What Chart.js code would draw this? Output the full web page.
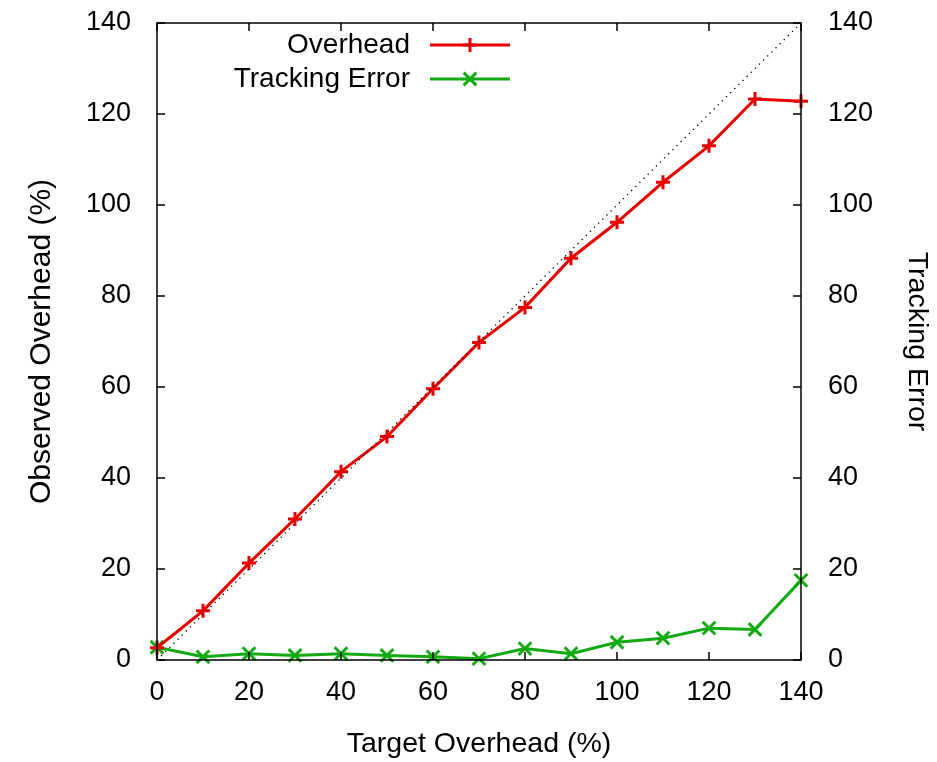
<!DOCTYPE html>
<html>
<head>
<meta charset="utf-8">
<script src="https://cdn.jsdelivr.net/npm/chart.js@4.4.0/dist/chart.umd.min.js"></script>
<style>
  html, body { margin: 0; padding: 0; background: #fff; }
  #wrap { width: 937px; height: 762px; }
</style>
</head>
<body>
<div id="wrap"><canvas id="overheadChart" width="937" height="762"></canvas></div>
<script>
// data
var targets = [0, 10, 20, 30, 40, 50, 60, 70, 80, 90, 100, 110, 120, 130, 140];
var observedOverhead = [2.7, 10.8, 21.3, 31.0, 41.4, 49.1, 59.6, 69.8, 77.5, 88.3, 96.2, 105.0, 113.0, 123.3, 122.8];
var trackingError = [2.8, 0.7, 1.4, 1.0, 1.4, 1.0, 0.7, 0.3, 2.5, 1.4, 3.9, 4.8, 7.0, 6.7, 17.5];
var idealX = [0, 140];
var idealY = [0, 140];
var tickValues = [0, 20, 40, 60, 80, 100, 120, 140];

var RED = '#e80000';
var GREEN = '#12aa12';
var FONT = '"Liberation Sans", Arial, sans-serif';

function toPoints(xs, ys) {
    return xs.map(function (x, i) { return { x: x, y: ys[i] }; });
}

function fixedTicks(s) {
    s.ticks = tickValues.map(function (v) { return { value: v }; });
}

// fixed box sizes, no extra room for label overflow
function fitTo(size) {
    return function (s) {
        if (s.isHorizontal()) s.height = size; else s.width = size;
        s.paddingTop = 0; s.paddingBottom = 0;
        s.paddingLeft = 0; s.paddingRight = 0;
    };
}

// gnuplot style box with inward ticks on all four sides
var framePlugin = {
    id: 'frame',
    afterDatasetsDraw: function (chart) {
        var ctx = chart.ctx;
        var a = chart.chartArea;
        var sx = chart.scales.x, sy = chart.scales.y, sy2 = chart.scales.y2;
        var len = 8;
        ctx.save();
        ctx.strokeStyle = '#000';
        ctx.lineWidth = 1.5;
        ctx.strokeRect(a.left, a.top, a.right - a.left, a.bottom - a.top);
        ctx.beginPath();
        tickValues.forEach(function (v) {
            var px = sx.getPixelForValue(v);
            ctx.moveTo(px, a.bottom); ctx.lineTo(px, a.bottom - len);
            ctx.moveTo(px, a.top); ctx.lineTo(px, a.top + len);
            var py = sy.getPixelForValue(v);
            ctx.moveTo(a.left, py); ctx.lineTo(a.left + len, py);
            var py2 = sy2.getPixelForValue(v);
            ctx.moveTo(a.right, py2); ctx.lineTo(a.right - len, py2);
        });
        ctx.stroke();
        ctx.restore();
    }
};

// legend: right aligned text, line sample with marker after it
var legendPlugin = {
    id: 'gpLegend',
    afterDraw: function (chart) {
        var ctx = chart.ctx;
        var items = [
            { text: 'Overhead', color: RED, style: 'cross', y: 45 },
            { text: 'Tracking Error', color: GREEN, style: 'crossRot', y: 79 }
        ];
        ctx.save();
        ctx.font = '28px ' + FONT;
        ctx.textAlign = 'right';
        ctx.textBaseline = 'middle';
        items.forEach(function (it) {
            ctx.fillStyle = '#000';
            ctx.fillText(it.text, 410, it.y);
            ctx.strokeStyle = it.color;
            ctx.lineWidth = 3;
            ctx.beginPath();
            ctx.moveTo(430, it.y);
            ctx.lineTo(510, it.y);
            ctx.stroke();
            ctx.fillStyle = it.color;
            Chart.helpers.drawPoint(ctx, {
                pointStyle: it.style,
                radius: it.style === 'cross' ? 7 : 9,
                borderWidth: 3,
                rotation: 0
            }, 470, it.y);
        });
        ctx.restore();
    }
};

var ctx = document.getElementById('overheadChart').getContext('2d');
var overheadChart = new Chart(ctx, {
    type: 'scatter',
    data: {
        datasets: [
            {
                label: 'ideal',
                data: toPoints(idealX, idealY),
                showLine: true,
                borderColor: '#000',
                borderWidth: 1.3,
                borderDash: [1.3, 4.5],
                pointRadius: 0,
                yAxisID: 'y'
            },
            {
                label: 'Overhead',
                data: toPoints(targets, observedOverhead),
                showLine: true,
                borderColor: RED,
                backgroundColor: RED,
                borderWidth: 3,
                pointStyle: 'cross',
                pointRadius: 7,
                pointBorderWidth: 3,
                clip: false,
                yAxisID: 'y'
            },
            {
                label: 'Tracking Error',
                data: toPoints(targets, trackingError),
                showLine: true,
                borderColor: GREEN,
                backgroundColor: GREEN,
                borderWidth: 3,
                pointStyle: 'crossRot',
                pointRadius: 9,
                pointBorderWidth: 3,
                clip: false,
                yAxisID: 'y2'
            }
        ]
    },
    options: {
        responsive: false,
        animation: false,
        layout: { padding: { top: 23, left: 0, right: 0, bottom: 0 } },
        plugins: {
            legend: { display: false },
            tooltip: { enabled: false }
        },
        scales: {
            x: {
                type: 'linear',
                min: 0,
                max: 140,
                afterBuildTicks: fixedTicks,
                afterFit: fitTo(102),
                grid: { display: false },
                border: { display: false },
                ticks: { color: '#000', font: { family: FONT, size: 27 }, padding: 8, maxRotation: 0 },
                title: { display: true, text: 'Target Overhead (%)', color: '#000', font: { family: FONT, size: 28.5 }, padding: { top: 0, bottom: 1 } }
            },
            y: {
                type: 'linear',
                position: 'left',
                min: 0,
                max: 140,
                afterBuildTicks: fixedTicks,
                afterFit: fitTo(157),
                grid: { display: false },
                border: { display: false },
                ticks: { color: '#000', font: { family: FONT, size: 27 }, padding: 18 },
                title: { display: true, text: 'Observed Overhead (%)', color: '#000', font: { family: FONT, size: 30 }, padding: { top: 24, bottom: 0 } }
            },
            y2: {
                type: 'linear',
                position: 'right',
                min: 0,
                max: 140,
                afterBuildTicks: fixedTicks,
                afterFit: fitTo(136),
                grid: { display: false },
                border: { display: false },
                ticks: { color: '#000', font: { family: FONT, size: 27 }, padding: 19 },
                title: { display: true, text: 'Tracking Error', color: '#000', font: { family: FONT, size: 28.5 }, padding: { top: 3, bottom: 0 } }
            }
        }
    },
    plugins: [framePlugin, legendPlugin]
});
</script>
</body>
</html>
